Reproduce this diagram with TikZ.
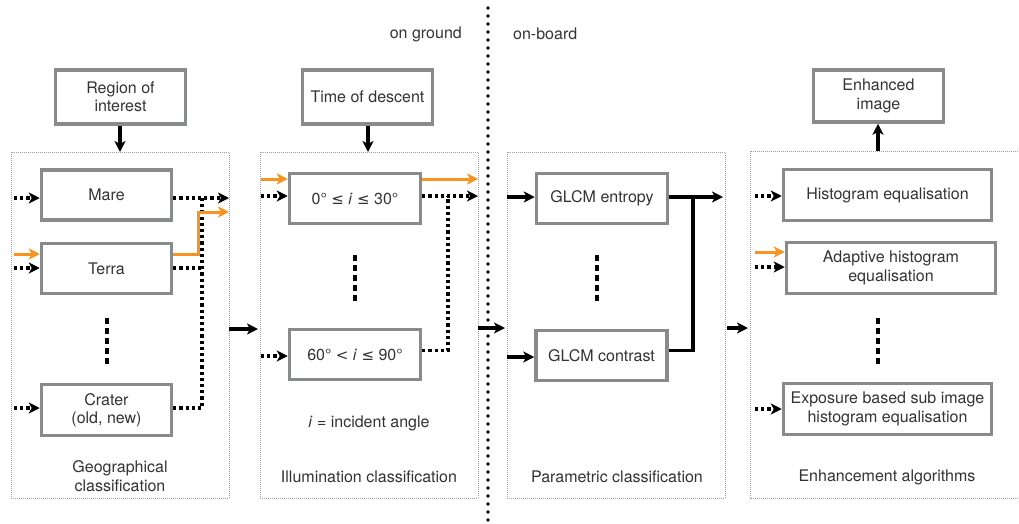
\documentclass[tikz,border=0pt]{standalone}
\usepackage{fontspec}
\setmainfont{TeX Gyre Heros}
\newfontfamily\symfont{DejaVu Sans}
\usetikzlibrary{arrows.meta,calc}
\definecolor{boxgray}{HTML}{888A8C}
\definecolor{grpgray}{HTML}{A0A0A0}
\definecolor{txt}{HTML}{333333}
\definecolor{orng}{HTML}{F7931E}
\newcommand{\lbl}{\fontsize{16}{18.5}\selectfont}
\newcommand{\leqs}{{\symfont\fontsize{15}{18}\selectfont ≤}}
\newcommand{\lts}{{\symfont\fontsize{15}{18}\selectfont <}}
\tikzset{
  box/.style={draw=boxgray, line width=3.5pt, fill=white, text=txt, align=center,
    inner sep=0pt, font=\lbl},
  grp/.style={draw=grpgray, line width=0.9pt, dash pattern=on 1pt off 1pt},
  txtlabel/.style={text=txt, align=center, font=\lbl, inner sep=0pt},
  tip/.style={-{Stealth[length=11pt,width=11pt,inset=3pt]}},
  flow/.style={line width=3.2pt, tip},
  dotflow/.style={line width=3.2pt, dash pattern=on 3.2pt off 3pt, tip},
  dotlink/.style={line width=3.2pt, dash pattern=on 3.2pt off 3pt},
  solidlink/.style={line width=3.2pt},
  orflow/.style={draw=orng, line width=3pt, -{Stealth[length=11pt,width=11pt,inset=3pt]}},
  ellip/.style={line width=3.5pt, dash pattern=on 6pt off 4pt},
  sepline/.style={line width=3.6pt, line cap=round, dash pattern=on 0pt off 8pt}
}
\begin{document}
\begin{tikzpicture}[x=1pt,y=-1pt]
\clip (0,0) rectangle (1019,523);
\fill[white] (0,0) rectangle (1019,523);

% on ground / on-board separator
\draw[sepline] (488,8) -- (488,523);
\node[txtlabel, anchor=east] (ground) at (462,34) {on ground};
\node[txtlabel, anchor=west] (board) at (513,34) {on-board};

% stage frames
\draw[grp] (11,152) rectangle (229,498);
\draw[grp] (260,152) rectangle (478,498);
\draw[grp] (507,152) rectangle (725,498);
\draw[grp] (750,151) rectangle (1030,498);

\node[txtlabel] (geolbl) at (120,476) {Geographical\\classification};
\node[txtlabel] (illlbl) at (369,477) {Illumination classification};
\node[txtlabel] (parlbl) at (617,477) {Parametric classification};
\node[txtlabel] (enhlbl) at (887,477) {Enhancement algorithms};

% inputs and output
\node[box, minimum width=130pt, minimum height=54pt] (roi) at (120.5,97) {Region of\\interest};
\node[box, minimum width=130pt, minimum height=54pt] (tod) at (367.5,97) {Time of descent};
\node[box, minimum width=130pt, minimum height=52pt] (enh) at (878.5,96) {Enhanced\\image};

\coordinate (geoTop) at (120,152);
\coordinate (illTop) at (368,152);
\coordinate (enhTop) at (878,151);
\draw[flow] (roi.south -| geoTop) -- (geoTop);
\draw[flow] (tod.south -| illTop) -- (illTop);
\draw[flow] (enhTop) -- (enhTop |- enh.south);

% geographical classification
\node[box, minimum width=130pt, minimum height=50pt] (mare) at (106.5,195) {Mare};
\node[box, minimum width=130pt, minimum height=50pt] (terra) at (106.5,268.5) {Terra};
\node[box, minimum width=130pt, minimum height=51pt] (crater) at (106.5,410) {Crater\\(old, new)};
\draw[ellip] (107,318) -- (107,366);

\coordinate (gIn1) at (14,198);
\coordinate (gIn2) at (14,268);
\coordinate (gIn2o) at (14,254);
\coordinate (gIn3) at (14,408);
\draw[dotflow] (gIn1) -- (gIn1 -| mare.west);
\draw[dotflow] (gIn2) -- (gIn2 -| terra.west);
\draw[orflow] (gIn2o) -- (gIn2o -| terra.west);
\draw[dotflow] (gIn3) -- (gIn3 -| crater.west);

\coordinate (gOut) at (229,198);
\coordinate (gOutO) at (229,212);
\coordinate (gJoin) at (202,198);
\draw[dotflow] (gOut -| mare.east) -- (gOut);
\draw[dotlink] (gIn3 -| crater.east) -| (gJoin);
\draw[dotlink] (gIn2 -| terra.east) -- (gIn2 -| gJoin);
\draw[orflow] (gIn2o -| terra.east) -- (198,254) -- (198,212) -- (gOutO);

% illumination classification
\node[box, minimum width=131pt, minimum height=50pt] (ill1) at (355,198.5) {0°~\leqs~\textit{i}~\leqs~30°};
\node[box, minimum width=131pt, minimum height=50pt] (ill2) at (355,354.5) {60°~\lts~\textit{i}~\leqs~90°};
\draw[ellip] (355,255) -- (355,302);
\node[txtlabel] (angle) at (369,423) {\textit{i} = incident angle};

\coordinate (iIn1) at (261,196);
\coordinate (iIn1o) at (261,179);
\coordinate (iIn2) at (261,356);
\coordinate (iOut) at (478,196);
\coordinate (iOutO) at (478,179);
\coordinate (iJoin) at (448,196);
\draw[dotflow] (iIn1) -- (iIn1 -| ill1.west);
\draw[orflow] (iIn1o) -- (iIn1o -| ill1.west);
\draw[dotflow] (iIn2) -- (iIn2 -| ill2.west);
\draw[dotflow] (iOut -| ill1.east) -- (iOut);
\draw[orflow] (iOutO -| ill1.east) -- (iOutO);
\draw[dotlink] ($(ill2.east)+(0,-4)$) -| (iJoin);

% parametric classification
\node[box, minimum width=131pt, minimum height=50pt] (glcm1) at (602,198.5) {GLCM entropy};
\node[box, minimum width=131pt, minimum height=50pt] (glcm2) at (601.5,355.5) {GLCM contrast};
\draw[ellip] (597,255) -- (597,302);

\coordinate (pIn1) at (507,197);
\coordinate (pIn2) at (507,357);
\coordinate (pOut) at (723,197);
\coordinate (pJoin) at (693,197);
\draw[flow] (pIn1) -- (pIn1 -| glcm1.west);
\draw[flow] (pIn2) -- (pIn2 -| glcm2.west);
\draw[flow] (pOut -| glcm1.east) -- (pOut);
\draw[solidlink] ($(glcm2.east)+(0,-5)$) -| (pJoin);

% enhancement algorithms
\node[box, minimum width=208pt, minimum height=51pt] (he) at (887.5,195) {Histogram equalisation};
\node[box, minimum width=209pt, minimum height=51pt] (ahe) at (891,268) {Adaptive histogram\\equalisation};
\node[box, minimum width=208pt, minimum height=51pt] (esihe) at (887.5,409) {Exposure based sub image\\histogram equalisation};
\draw[ellip] (878,318) -- (878,364);

\coordinate (eIn1) at (755,196);
\coordinate (eIn2) at (755,267);
\coordinate (eIn2o) at (755,252);
\coordinate (eIn3) at (755,409);
\draw[dotflow] (eIn1) -- (eIn1 -| he.west);
\draw[dotflow] (eIn2) -- (eIn2 -| ahe.west);
\draw[orflow] (eIn2o) -- (eIn2o -| ahe.west);
\draw[dotflow] (eIn3) -- (eIn3 -| esihe.west);

% hand-over between stages
\coordinate (s1a) at (229,329);
\coordinate (s1b) at (258,329);
\coordinate (s2a) at (478,328);
\coordinate (s2b) at (505,328);
\coordinate (s3a) at (727,328);
\coordinate (s3b) at (748,328);
\draw[flow] (s1a) -- (s1b);
\draw[flow] (s2a) -- (s2b);
\draw[flow] (s3a) -- (s3b);
\end{tikzpicture}
\end{document}
